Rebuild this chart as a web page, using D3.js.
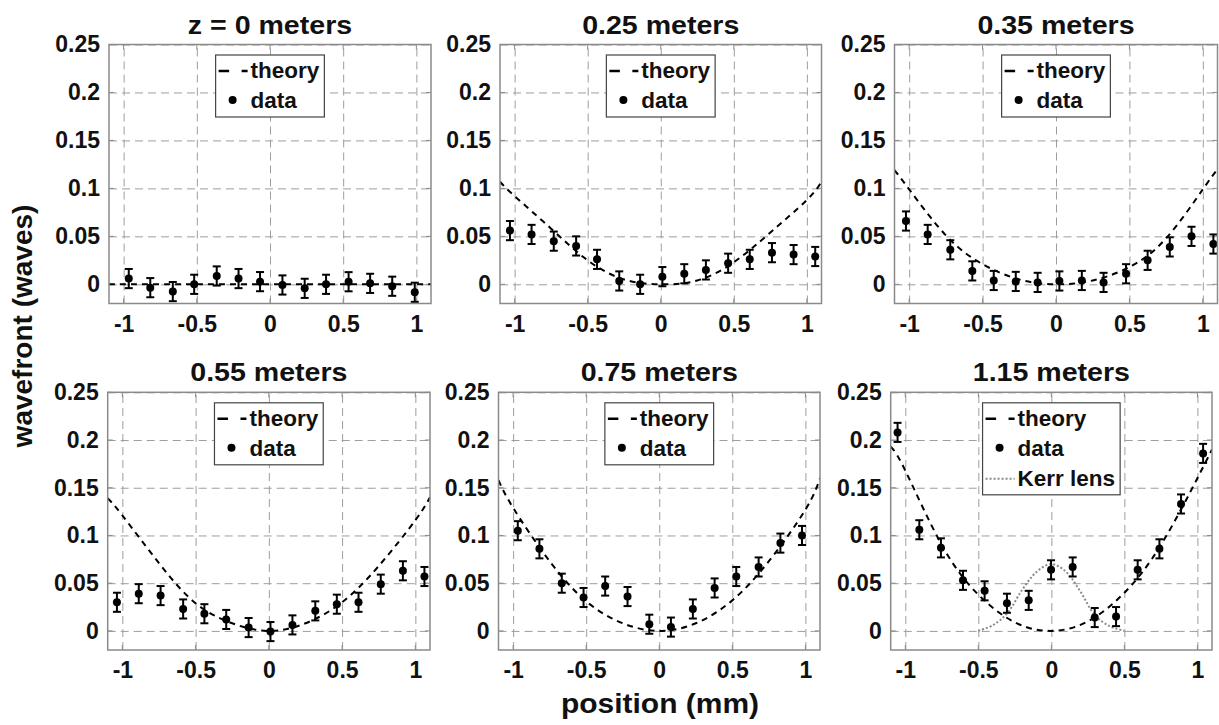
<!DOCTYPE html>
<html>
<head>
<meta charset="utf-8">
<script src="https://cdn.jsdelivr.net/npm/d3@7"></script>
<style>
  body { margin: 0; background: #fff; }
  text { font-family: "Liberation Sans", Arial, sans-serif; font-weight: bold; fill: #111; }
</style>
</head>
<body>
<div id="canvas"></div>
<script>
// panel titles
const titles = ["z = 0 meters", "0.25 meters", "0.35 meters", "0.55 meters", "0.75 meters", "1.15 meters"];

const xTicks = [-1, -0.5, 0, 0.5, 1];
const yTicks = [0, 0.05, 0.1, 0.15, 0.2, 0.25];

// measured points (position mm, wavefront waves)
const pos1 = [-0.965, -0.818, -0.664, -0.518, -0.364, -0.215, -0.068, 0.085, 0.237, 0.383, 0.537, 0.684, 0.835, 0.989];
const val1 = [0.006, -0.0035, -0.0076, 0, 0.0087, 0.006, 0.0028, -0.0007, -0.0042, 0, 0.0027, 0.001, -0.002, -0.0083];
const pos2 = [-1.032, -0.884, -0.732, -0.579, -0.436, -0.284, -0.141, 0.011, 0.161, 0.309, 0.461, 0.609, 0.761, 0.909, 1.057];
const val2 = [0.056, 0.052, 0.045, 0.040, 0.026, 0.0035, 0, 0.008, 0.011, 0.015, 0.022, 0.026, 0.033, 0.031, 0.029];
const pos3 = [-1.022, -0.874, -0.72, -0.57, -0.424, -0.274, -0.125, 0.023, 0.176, 0.324, 0.477, 0.624, 0.775, 0.923, 1.072];
const val3 = [0.066, 0.052, 0.036, 0.014, 0.004, 0.003, 0.002, 0.0035, 0.004, 0.002, 0.011, 0.025, 0.039, 0.050, 0.042];
const pos4 = [-1.037, -0.888, -0.739, -0.585, -0.44, -0.291, -0.138, 0.011, 0.161, 0.317, 0.464, 0.612, 0.764, 0.915, 1.062];
const val4 = [0.030, 0.039, 0.037, 0.023, 0.018, 0.012, 0.0035, -0.0007, 0.0063, 0.021, 0.028, 0.030, 0.049, 0.063, 0.057];
const pos5 = [-0.968, -0.82, -0.667, -0.518, -0.37, -0.217, -0.068, 0.08, 0.23, 0.379, 0.527, 0.68, 0.829, 0.977];
const val5 = [0.105, 0.086, 0.050, 0.035, 0.047, 0.036, 0.007, 0.004, 0.023, 0.045, 0.057, 0.067, 0.092, 0.100];
const pos6 = [-1.053, -0.904, -0.756, -0.605, -0.457, -0.304, -0.155, -0.002, 0.146, 0.297, 0.443, 0.591, 0.74, 0.888, 1.039];
const val6 = [0.208, 0.106, 0.087, 0.053, 0.042, 0.029, 0.032, 0.064, 0.067, 0.014, 0.015, 0.064, 0.086, 0.133, 0.186];
const errBar = 0.01;

// theory curves
const theoryPos = [-1.1, -1, -0.75, -0.5, -0.25, 0, 0.25, 0.5, 0.75, 1, 1.1];
const th1 = [0, 0, 0, 0, 0, 0, 0, 0, 0, 0, 0];
const th2 = [0.107, 0.092, 0.058, 0.025, 0.005, 0, 0.004, 0.023, 0.054, 0.088, 0.107];
const th3 = [0.119, 0.099, 0.051, 0.021, 0.005, 0, 0.004, 0.018, 0.048, 0.099, 0.120];
const th4 = [0.139, 0.121, 0.071, 0.029, 0.008, 0, 0.008, 0.030, 0.068, 0.116, 0.140];
const th5 = [0.158, 0.129, 0.073, 0.031, 0.008, 0, 0.008, 0.032, 0.073, 0.127, 0.160];
const th6 = [0.193, 0.168, 0.090, 0.038, 0.009, 0, 0.010, 0.040, 0.090, 0.160, 0.190];

// Kerr lens curve (last panel only)
const kerrPos = [-0.5, -0.4, -0.3, -0.2, -0.1, 0, 0.1, 0.2, 0.3, 0.4, 0.5];
const kerrVal = [0, 0.006, 0.019, 0.043, 0.062, 0.070, 0.062, 0.041, 0.016, 0.005, 0];

const positions = [pos1, pos2, pos3, pos4, pos5, pos6];
const values = [val1, val2, val3, val4, val5, val6];
const theories = [th1, th2, th3, th4, th5, th6];

// pixel boxes of each axes
const boxes = [
  {l: 109, r: 431, t: 44.5, b: 303.5},
  {l: 500, r: 821.5, t: 44.5, b: 303.5},
  {l: 894.5, r: 1217.5, t: 44.5, b: 303.5},
  {l: 107.7, r: 430, t: 392.3, b: 650},
  {l: 498.5, r: 820, t: 392.3, b: 650},
  {l: 890.7, r: 1212, t: 392.3, b: 650}
];

const width = 1219, height = 725;
const svg = d3.select("#canvas").append("svg")
  .attr("width", width).attr("height", height);

const gridColor = "#9e9e9e";
const boxColor = "#8a8a8a";

// the source text is a little wider than Arial, stretch it
function widen(sel, f) {
  sel.each(function () {
    const len = this.getComputedTextLength();
    d3.select(this).attr("textLength", len * f).attr("lengthAdjust", "spacingAndGlyphs");
  });
}

boxes.forEach((bx, i) => {
  const w = bx.r - bx.l, h = bx.b - bx.t;
  const x = d3.scaleLinear().domain([-1.1, 1.1]).range([0, w]);
  const y = d3.scaleLinear().domain([-0.02, 0.25]).range([h, 0]);

  const g = svg.append("g").attr("transform", `translate(${bx.l},${bx.t})`);

  g.append("clipPath").attr("id", "clip" + i)
    .append("rect").attr("width", w).attr("height", h);

  // grid via axes
  const gx = g.append("g").attr("transform", `translate(0,${h})`)
    .call(d3.axisBottom(x).tickValues(xTicks).tickSize(-h).tickPadding(12).tickFormat(d => String(d)));
  const gy = g.append("g")
    .call(d3.axisLeft(y).tickValues(yTicks).tickSize(-w).tickPadding(9).tickFormat(d => String(d)));
  [gx, gy].forEach(a => {
    a.select(".domain").remove();
    a.selectAll(".tick line").attr("stroke", gridColor).attr("stroke-dasharray", "8,5").attr("stroke-width", 1);
    a.selectAll(".tick text").style("font-size", "23px").attr("fill", "#111");
  });

  // small inward ticks on the box
  xTicks.forEach(t => {
    g.append("line").attr("x1", x(t)).attr("x2", x(t)).attr("y1", h).attr("y2", h - 5).attr("stroke", boxColor);
    g.append("line").attr("x1", x(t)).attr("x2", x(t)).attr("y1", 0).attr("y2", 5).attr("stroke", boxColor);
  });
  yTicks.forEach(t => {
    g.append("line").attr("x1", 0).attr("x2", 5).attr("y1", y(t)).attr("y2", y(t)).attr("stroke", boxColor);
    g.append("line").attr("x1", w).attr("x2", w - 5).attr("y1", y(t)).attr("y2", y(t)).attr("stroke", boxColor);
  });

  const line = d3.line().x(d => x(d[0])).y(d => y(d[1])).curve(d3.curveNatural);

  // theory
  g.append("path")
    .datum(theoryPos.map((p, k) => [p, theories[i][k]]))
    .attr("clip-path", `url(#clip${i})`)
    .attr("fill", "none").attr("stroke", "#000").attr("stroke-width", 2)
    .attr("stroke-dasharray", "6,5").attr("d", line);

  if (i === 5) {
    g.append("path")
      .datum(kerrPos.map((p, k) => [p, kerrVal[k]]))
      .attr("fill", "none").attr("stroke", "#8a8a8a").attr("stroke-width", 2)
      .attr("stroke-dasharray", "2,2").attr("d", line.curve(d3.curveCatmullRom));
  }

  // error bars and dots
  const pts = positions[i].map((p, k) => ({p: p, v: values[i][k]}));
  const eb = g.selectAll(".eb").data(pts).enter().append("g");
  eb.append("line").attr("x1", d => x(d.p)).attr("x2", d => x(d.p))
    .attr("y1", d => y(d.v - errBar)).attr("y2", d => y(d.v + errBar))
    .attr("stroke", "#000").attr("stroke-width", 2);
  eb.append("line").attr("x1", d => x(d.p) - 4).attr("x2", d => x(d.p) + 4)
    .attr("y1", d => y(d.v + errBar)).attr("y2", d => y(d.v + errBar))
    .attr("stroke", "#000").attr("stroke-width", 2);
  eb.append("line").attr("x1", d => x(d.p) - 4).attr("x2", d => x(d.p) + 4)
    .attr("y1", d => y(d.v - errBar)).attr("y2", d => y(d.v - errBar))
    .attr("stroke", "#000").attr("stroke-width", 2);
  eb.append("circle").attr("cx", d => x(d.p)).attr("cy", d => y(d.v)).attr("r", 4).attr("fill", "#000");

  // box
  g.append("rect").attr("width", w).attr("height", h)
    .attr("fill", "none").attr("stroke", boxColor).attr("stroke-width", 1.5);

  // title
  g.append("text").attr("x", w / 2).attr("y", -11).attr("text-anchor", "middle")
    .style("font-size", "25.5px").text(titles[i])
    .call(widen, 1.12);

  // legend
  const entries = i === 5 ? ["theory", "data", "Kerr lens"] : ["theory", "data"];
  const lg = g.append("g");
  const rowH = 30;
  const texts = entries.map((t, k) => lg.append("text").attr("x", 35).attr("y", 23 + k * rowH)
    .style("font-size", "22.5px").text(t));
  const tw = d3.max(texts, t => t.node().getComputedTextLength());
  const lw = 35 + tw + 5, lh = entries.length * rowH + 2;
  lg.insert("rect", "text").attr("width", lw).attr("height", lh)
    .attr("fill", "#fff").attr("stroke", "#444").attr("stroke-width", 1.2);
  lg.append("line").attr("x1", 3).attr("x2", 32).attr("y1", 16).attr("y2", 16)
    .attr("stroke", "#000").attr("stroke-width", 2.5).attr("stroke-dasharray", "10.5,12.5");
  lg.append("circle").attr("cx", 17).attr("cy", 45).attr("r", 4).attr("fill", "#000");
  if (i === 5) {
    lg.append("line").attr("x1", 3).attr("x2", 32).attr("y1", 76).attr("y2", 76)
      .attr("stroke", "#8a8a8a").attr("stroke-width", 2).attr("stroke-dasharray", "2,2");
  }
  lg.attr("transform", `translate(${(w - lw) / 2},${10.5})`);
});

// shared axis labels
svg.append("text").attr("transform", "translate(32,326) rotate(-90)")
  .attr("text-anchor", "middle").style("font-size", "28px").text("wavefront (waves)");
svg.append("text").attr("x", 660).attr("y", 713)
  .attr("text-anchor", "middle").style("font-size", "28px").text("position (mm)")
  .call(widen, 1.07);
</script>
</body>
</html>
